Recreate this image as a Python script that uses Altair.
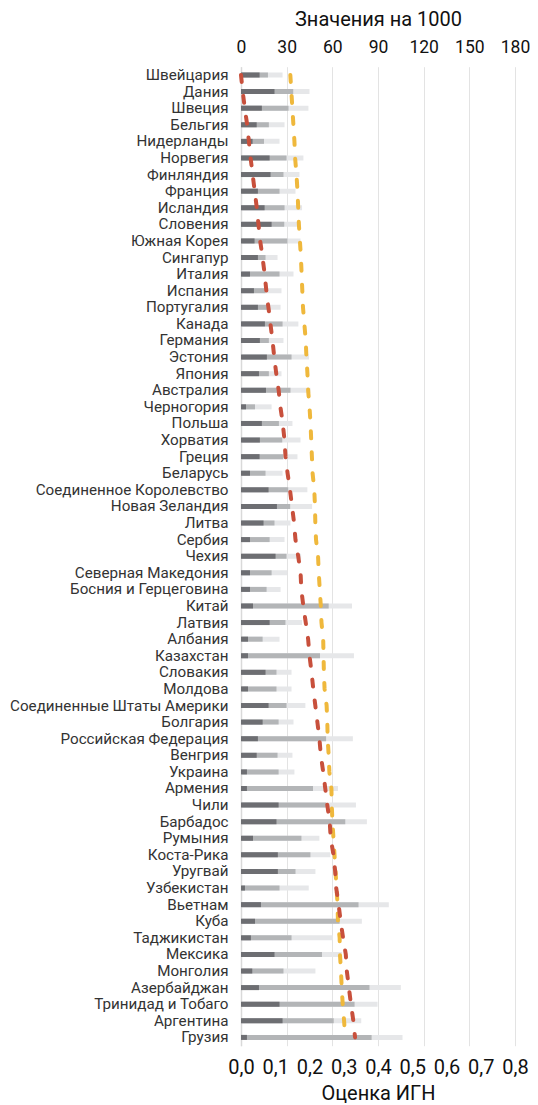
import altair as alt
import pandas as pd

countries = [
    "Швейцария", "Дания", "Швеция", "Бельгия", "Нидерланды", "Норвегия",
    "Финляндия", "Франция", "Исландия", "Словения", "Южная Корея", "Сингапур",
    "Италия", "Испания", "Португалия", "Канада", "Германия", "Эстония",
    "Япония", "Австралия", "Черногория", "Польша", "Хорватия", "Греция",
    "Беларусь", "Соединенное Королевство", "Новая Зеландия", "Литва", "Сербия",
    "Чехия", "Северная Македония", "Босния и Герцеговина", "Китай", "Латвия",
    "Албания", "Казахстан", "Словакия", "Молдова", "Соединенные Штаты Америки",
    "Болгария", "Российская Федерация", "Венгрия", "Украина", "Армения", "Чили",
    "Барбадос", "Румыния", "Коста-Рика", "Уругвай", "Узбекистан", "Вьетнам",
    "Куба", "Таджикистан", "Мексика", "Монголия", "Азербайджан",
    "Тринидад и Тобаго", "Аргентина", "Грузия",
]

# values per 1000 (top axis)
dark = [12.2, 22.0, 13.7, 10.3, 7.6, 18.8, 19.4, 11.1, 15.5, 20.1, 8.9, 11.1,
        5.9, 8.5, 11.1, 15.7, 12.4, 17.0, 11.8, 16.4, 3.3, 13.7, 12.4,
        12.2, 5.9, 18.1, 23.6, 14.8, 5.9, 22.7, 5.9, 5.9, 7.9, 18.8, 4.6,
        4.6, 16.1, 4.6, 18.1, 14.2, 11.1, 10.3, 3.9, 3.9, 24.7, 23.3,
        7.9, 24.2, 24.2, 2.6, 13.1, 9.2, 6.5, 22.0, 7.4, 11.8, 25.3, 27.3, 3.9]
medium = [17.7, 34.3, 31.2, 18.3, 15.1, 29.9, 27.9, 25.3, 28.6, 28.4, 30.5, 16.1,
          25.3, 16.1, 18.3, 27.3, 18.3, 33.2, 18.3, 32.5, 9.2, 24.9, 27.1,
          27.7, 16.1, 31.0, 32.3, 22.0, 18.8, 29.9, 20.1, 16.8, 57.6, 29.2, 14.2,
          51.9, 23.3, 23.3, 29.9, 24.7, 55.9, 24.0, 24.7, 47.3, 55.9, 68.5,
          39.7, 45.6, 35.8, 25.3, 77.2, 64.8, 33.2, 53.2, 27.9, 84.4, 74.6, 60.9, 85.8]
light = [27.3, 45.0, 44.3, 28.6, 25.3, 41.0, 38.4, 35.8, 40.1, 39.1, 39.1, 24.0,
         34.5, 26.6, 26.0, 37.7, 27.9, 44.7, 26.6, 45.6, 20.1, 33.8, 39.1,
         37.1, 27.3, 43.6, 46.7, 32.5, 28.6, 39.5, 30.3, 26.0, 72.9, 40.1, 25.3,
         74.2, 33.2, 33.2, 42.3, 34.5, 73.5, 33.8, 35.1, 63.7, 75.5, 82.7,
         51.5, 58.7, 48.9, 44.5, 97.1, 79.4, 60.4, 66.3, 48.9, 105.0, 89.7, 79.0, 106.1]

# index scores (bottom axis)
gii = [0.0, 0.005, 0.011, 0.018, 0.023, 0.028, 0.034, 0.040, 0.046, 0.051, 0.056, 0.063,
       0.069, 0.074, 0.080, 0.086, 0.092, 0.097, 0.103, 0.110, 0.115, 0.122, 0.127,
       0.130, 0.136, 0.143, 0.149, 0.155, 0.159, 0.167, 0.174, 0.176, 0.182, 0.189, 0.196,
       0.200, 0.206, 0.211, 0.217, 0.223, 0.229, 0.233, 0.240, 0.246, 0.252, 0.259,
       0.262, 0.270, 0.275, 0.278, 0.285, 0.291, 0.298, 0.306, 0.309, 0.315, 0.321, 0.328, 0.333]
ref = [0.144, 0.147, 0.150, 0.153, 0.156, 0.158, 0.162, 0.165, 0.167, 0.169, 0.172, 0.175,
       0.177, 0.179, 0.181, 0.185, 0.189, 0.191, 0.194, 0.196, 0.200, 0.203, 0.205,
       0.207, 0.209, 0.214, 0.216, 0.217, 0.219, 0.225, 0.227, 0.230, 0.233, 0.235, 0.240,
       0.241, 0.242, 0.244, 0.250, 0.252, 0.253, 0.256, 0.258, 0.264, 0.265, 0.267,
       0.270, 0.273, 0.276, 0.279, 0.282, 0.283, 0.288, 0.289, 0.292, 0.294, 0.297, 0.301, 0.304]

df = pd.DataFrame({
    "country": countries,
    "idx": list(range(len(countries))),
    "dark": dark, "medium": medium, "light": light,
    "gii": gii, "ref": ref,
})

FONT = "Roboto"
W, H = 274, 979

y_enc = alt.Y(
    "country:N", sort=countries,
    scale=alt.Scale(paddingInner=0, paddingOuter=0),
    axis=alt.Axis(title=None, ticks=False, domain=True, domainColor="#d9d9d9",
                  domainWidth=1.5, labelFontSize=15.2, labelColor="#333333",
                  labelPadding=13, labelFont=FONT, labelLimit=400, grid=False),
)

top_axis = alt.Axis(
    orient="top", values=[0, 30, 60, 90, 120, 150, 180], title="Значения на 1000",
    titleFontSize=20, titleFontWeight="normal", titleColor="#111111", titleFont=FONT,
    titlePadding=9, labelFontSize=17.5, labelColor="#111111", labelFont=FONT,
    labelPadding=10, ticks=False, domain=False, grid=True, gridColor="#e3e3e3",
    gridWidth=1, labelFlush=False,
)

bars = alt.Chart(df).transform_fold(
    ["light", "medium", "dark"], as_=["series", "value"]
).mark_bar(size=5).encode(
    x=alt.X("value:Q", stack=None, scale=alt.Scale(domain=[0, 180], nice=False),
            axis=top_axis),
    y=y_enc,
    color=alt.Color("series:N", legend=None,
                    scale=alt.Scale(domain=["light", "medium", "dark"],
                                    range=["#e6e7e9", "#b3b5b7", "#6d6e72"])),
)

bottom_axis = alt.Axis(
    orient="bottom", values=[0, 0.1, 0.2, 0.3, 0.4, 0.5, 0.6, 0.7, 0.8],
    labelExpr="replace(format(datum.value, '.1f'), '.', ',')",
    title="Оценка ИГН", titleFontSize=20, titleFontWeight="normal",
    titleColor="#111111", titleFont=FONT, titlePadding=6,
    labelFontSize=20, labelColor="#111111", labelFont=FONT, labelPadding=12,
    ticks=False, domain=False, grid=False, labelFlush=False,
)

lines = alt.Chart(df).transform_fold(
    ["ref", "gii"], as_=["series", "score"]
).mark_line(strokeWidth=4, strokeDash=[7, 14], strokeCap="round").encode(
    x=alt.X("score:Q", scale=alt.Scale(domain=[0, 0.8], nice=False), axis=bottom_axis),
    y=y_enc,
    color=alt.Color("series:N", legend=None,
                    scale=alt.Scale(domain=["ref", "gii"],
                                    range=["#efb83c", "#c8503c"])),
    detail="series:N",
    order=alt.Order("idx:Q"),
)

chart = alt.layer(bars, lines).resolve_scale(
    x="independent", color="independent"
).resolve_axis(x="independent").properties(
    width=W, height=H,
    autosize=alt.AutoSizeParams(type="none"),
    padding={"left": 233, "top": 58.7, "right": 15, "bottom": 65},
).configure(font=FONT).configure_view(stroke=None)

chart.save("out.html", embed_options={"renderer": "svg", "actions": False})
